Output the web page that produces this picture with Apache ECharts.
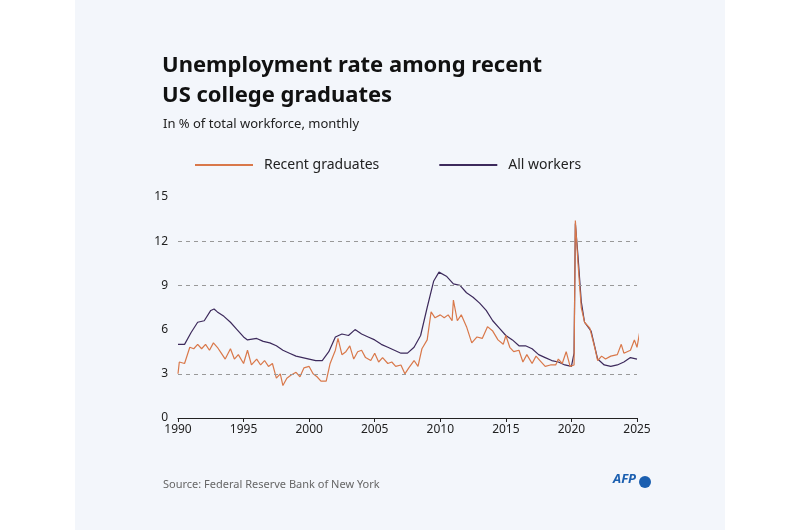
<!DOCTYPE html><html><head><meta charset="utf-8"><script src="https://cdn.jsdelivr.net/npm/echarts@6/dist/echarts.min.js"></script>
<style>html,body{margin:0;background:#fff}#c{width:800px;height:530px}</style></head><body><div id="c"></div><script>
const allYears=[1990.0,1990.5,1991.0,1991.5,1992.0,1992.5,1992.75,1993.0,1993.5,1994.0,1994.5,1995.0,1995.3,1996.0,1996.5,1997.0,1997.5,1998.0,1998.5,1999.0,1999.5,2000.0,2000.5,2001.0,2001.5,2002.0,2002.5,2003.0,2003.5,2004.0,2004.5,2005.0,2005.5,2006.0,2006.5,2007.0,2007.5,2008.0,2008.5,2009.0,2009.5,2009.9,2010.5,2011.0,2011.5,2012.0,2012.5,2013.0,2013.5,2014.0,2014.5,2015.0,2015.5,2016.0,2016.5,2017.0,2017.5,2018.0,2018.5,2019.0,2019.5,2020.0,2020.2,2020.3,2020.5,2020.75,2021.0,2021.5,2022.0,2022.5,2023.0,2023.5,2024.0,2024.5,2025.0];
const allWorkers=[5.0,5.0,5.8,6.5,6.6,7.3,7.4,7.2,6.9,6.5,6.0,5.5,5.3,5.4,5.2,5.1,4.9,4.6,4.4,4.2,4.1,4.0,3.9,3.9,4.5,5.5,5.7,5.6,6.0,5.7,5.5,5.3,5.0,4.8,4.6,4.4,4.4,4.8,5.6,7.5,9.3,9.9,9.6,9.1,9.0,8.5,8.2,7.8,7.3,6.6,6.1,5.6,5.3,4.9,4.9,4.7,4.3,4.1,3.9,3.8,3.6,3.5,4.4,13.2,11.0,7.9,6.5,5.9,4.0,3.6,3.5,3.6,3.8,4.1,4.0];
const gradYears=[1990.0,1990.1,1990.5,1990.9,1991.2,1991.5,1991.8,1992.1,1992.4,1992.7,1993.0,1993.3,1993.6,1994.0,1994.3,1994.6,1995.0,1995.3,1995.6,1996.0,1996.3,1996.6,1996.9,1997.2,1997.5,1997.8,1998.0,1998.3,1998.6,1999.0,1999.3,1999.6,2000.0,2000.3,2000.6,2000.9,2001.3,2001.6,2002.0,2002.2,2002.5,2002.8,2003.1,2003.4,2003.7,2004.0,2004.3,2004.7,2005.0,2005.3,2005.6,2006.0,2006.3,2006.6,2007.0,2007.3,2007.6,2008.0,2008.3,2008.6,2009.0,2009.3,2009.6,2010.0,2010.3,2010.6,2010.9,2011.0,2011.3,2011.6,2012.0,2012.4,2012.8,2013.2,2013.6,2014.0,2014.4,2014.8,2015.0,2015.3,2015.6,2016.0,2016.3,2016.6,2017.0,2017.3,2017.6,2018.0,2018.4,2018.8,2019.0,2019.3,2019.6,2019.9,2020.2,2020.3,2020.5,2020.75,2021.0,2021.4,2021.8,2022.0,2022.3,2022.6,2023.0,2023.5,2023.8,2024.0,2024.5,2024.8,2025.0,2025.2];
const recentGrads=[3.0,3.8,3.7,4.8,4.7,5.0,4.7,5.0,4.6,5.1,4.8,4.4,4.0,4.7,4.0,4.3,3.7,4.6,3.6,4.0,3.6,3.9,3.5,3.7,2.7,3.0,2.2,2.7,2.9,3.1,2.8,3.4,3.5,3.0,2.8,2.5,2.5,3.7,4.6,5.4,4.3,4.5,4.9,4.0,4.5,4.6,4.1,3.9,4.4,3.8,4.1,3.7,3.8,3.5,3.6,3.0,3.4,3.9,3.5,4.7,5.3,7.2,6.8,7.0,6.8,7.0,6.6,8.0,6.6,7.0,6.2,5.1,5.5,5.4,6.2,5.9,5.3,5.0,5.6,4.8,4.5,4.6,3.8,4.3,3.7,4.2,3.9,3.5,3.6,3.6,4.0,3.7,4.5,3.5,3.6,13.4,10.5,7.5,6.5,6.1,4.7,3.9,4.2,4.0,4.2,4.3,5.0,4.4,4.6,5.3,4.8,5.8];
const xTicks=[1990,1995,2000,2005,2010,2015,2020,2025];
const yTicks=[0,3,6,9,12,15];
const gridLines=[3,9,12];
const zip=(a,b)=>a.map((x,i)=>[x,b[i]]);
const ch=echarts.init(document.getElementById('c'));
const ff='"Noto Sans",sans-serif';
ch.setOption({
 animation:false,
 graphic:[{type:'rect',shape:{x:75,y:0,width:650,height:530},style:{fill:'#f3f6fb'},z:-10},
  {type:'text',left:613,top:473,style:{text:'AFP',font:'italic bold 13px '+ff,fill:'#1b5fb0'}},
  {type:'circle',shape:{cx:645,cy:482,r:6},style:{fill:'#1b5fb0'}}],
 title:[{text:'Unemployment rate among recent\nUS college graduates',left:157,top:46,textStyle:{fontFamily:ff,fontSize:22,fontWeight:'bold',color:'#111',lineHeight:30}},
  {text:'In % of total workforce, monthly',left:158,top:113,textStyle:{fontFamily:ff,fontSize:13,fontWeight:'normal',color:'#222'}},
  {text:'Source: Federal Reserve Bank of New York',left:158,top:474,textStyle:{fontFamily:ff,fontSize:11,fontWeight:'normal',color:'#666'}}],
 legend:{left:190,top:153,itemGap:60,itemWidth:58,itemHeight:2,icon:'rect',textStyle:{fontFamily:ff,fontSize:14,color:'#222',padding:[0,0,0,6]},data:['Recent graduates','All workers']},
 grid:{left:178,right:163,top:197,bottom:112},
 xAxis:{type:'value',min:1990,max:2025,interval:5,axisLine:{lineStyle:{color:'#222'}},axisTick:{show:true,length:4,lineStyle:{color:'#222'}},splitLine:{show:false},axisLabel:{fontFamily:ff,fontSize:12,color:'#222',margin:6,formatter:v=>xTicks.includes(v)?String(v):''}},
 yAxis:{type:'value',min:0,max:15,interval:3,axisLine:{show:false},axisTick:{show:false},splitLine:{show:false},axisLabel:{fontFamily:ff,fontSize:12,color:'#222',margin:10,formatter:v=>yTicks.includes(v)?String(v):''}},
 series:[
  {name:'Recent graduates',type:'line',data:zip(gradYears,recentGrads),showSymbol:false,lineStyle:{color:'#d9784a',width:1.2},itemStyle:{color:'#d9784a'},z:3,
   markLine:{silent:true,symbol:'none',label:{show:false},lineStyle:{color:'#999',type:[4,4],width:1},data:gridLines.map(v=>({yAxis:v}))}},
  {name:'All workers',type:'line',data:zip(allYears,allWorkers),showSymbol:false,lineStyle:{color:'#3d2a5c',width:1.2},itemStyle:{color:'#3d2a5c'},z:2}
 ]
});
</script></body></html>
